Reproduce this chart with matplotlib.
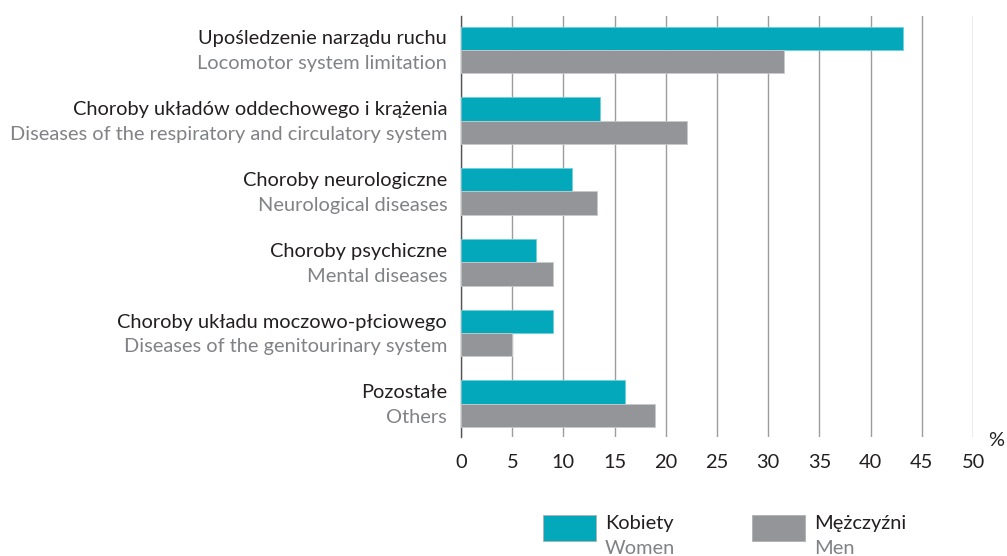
import matplotlib
matplotlib.use("Agg")
import matplotlib.pyplot as plt
from matplotlib.patches import Rectangle

labels_pl = ["Upośledzenie narządu ruchu", "Choroby układów oddechowego i krążenia",
             "Choroby neurologiczne", "Choroby psychiczne",
             "Choroby układu moczowo-płciowego", "Pozostałe"]
labels_en = ["Locomotor system limitation", "Diseases of the respiratory and circulatory system",
             "Neurological diseases", "Mental diseases",
             "Diseases of the genitourinary system", "Others"]
women = [43.2, 13.6, 10.8, 7.3, 9.0, 16.0]
men = [31.5, 22.1, 13.3, 9.0, 5.0, 18.9]
xticks = [0, 5, 10, 15, 20, 25, 30, 35, 40, 45, 50]

TEAL = "#03a9bb"
GREY = "#949598"
DARK = "#231f20"
LIGHT = "#808285"
FS = 14.4

plt.rcParams["font.family"] = ["Lato", "DejaVu Sans"]

W, H = 1007, 556
fig = plt.figure(figsize=(W / 100, H / 100), dpi=100)
ax = fig.add_axes([461 / W, 1 - 437 / H, (973 - 461) / W, (437 - 16) / H])

h = 0.33
ys = list(range(len(women)))
ax.barh([y - h / 2 for y in ys], women, height=h, color=TEAL, edgecolor="#6fd0dc", linewidth=0.6, zorder=3)
ax.barh([y + h / 2 for y in ys], men, height=h, color=GREY, edgecolor="#c8c9cb", linewidth=0.6, zorder=3)

ax.set_xlim(0, 50)
ax.set_ylim(5.47, -0.48)
ax.set_xticks(xticks)
ax.set_xticklabels([str(t) for t in xticks], fontsize=FS, color=DARK)
ax.tick_params(axis="x", length=0, pad=12)
ax.set_yticks([])
ax.grid(axis="x", color="#9d9d9d", linewidth=1.0, zorder=0)
for s in ["top", "right", "bottom"]:
    ax.spines[s].set_visible(False)
ax.spines["left"].set_color("#555555")
ax.spines["left"].set_linewidth(1.0)

tr = ax.get_yaxis_transform()
for y, pl, en in zip(ys, labels_pl, labels_en):
    ax.text(-0.027, y - h / 2 + 0.01, pl, transform=tr, ha="right", va="center", fontsize=FS, color=DARK)
    ax.text(-0.027, y + h / 2 + 0.03, en, transform=tr, ha="right", va="center", fontsize=FS, color=LIGHT)

ax.text(1.045, -0.008, "%", transform=ax.transAxes, ha="center", va="center", fontsize=FS, color=DARK)

# legend
for x0, col, pl, en in [(543, TEAL, "Kobiety", "Women"), (752, GREY, "Mężczyźni", "Men")]:
    fig.add_artist(Rectangle((x0 / W, 1 - 541 / H), 53 / W, 26 / H, transform=fig.transFigure,
                             facecolor=col, edgecolor="#b0b0b0", linewidth=0.6))
    fig.text((x0 + 62) / W, 1 - 524 / H, pl, ha="left", va="center", fontsize=FS, color=DARK)
    fig.text((x0 + 62) / W, 1 - 548 / H, en, ha="left", va="center", fontsize=FS, color=LIGHT)

fig.savefig("out.png", dpi=100)
